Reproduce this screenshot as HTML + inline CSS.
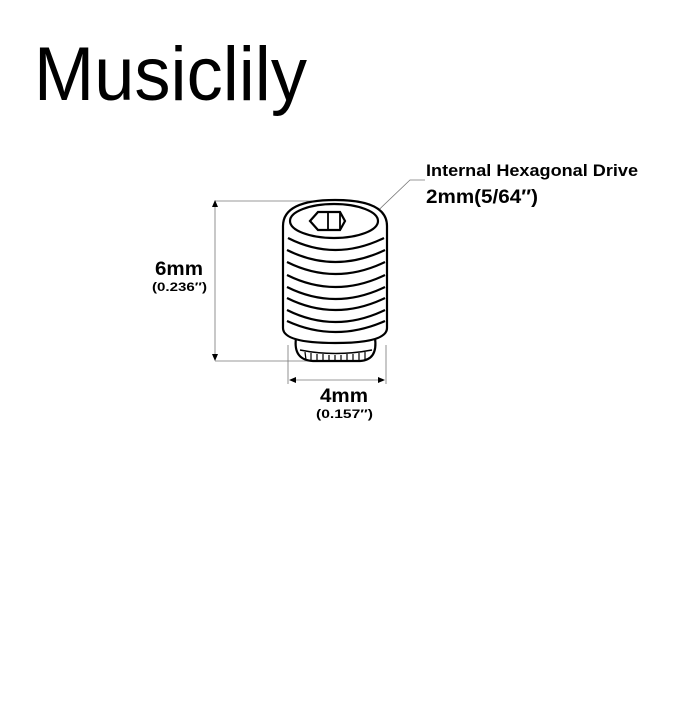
<!DOCTYPE html>
<html><head><style>
body{margin:0;background:#fff;width:700px;height:700px;overflow:hidden}
</style></head><body>
<svg width="700" height="700" xmlns="http://www.w3.org/2000/svg" font-family="Liberation Sans, sans-serif">
<text x="34" y="100" font-size="76" fill="#000" textLength="273" lengthAdjust="spacingAndGlyphs">Musiclily</text>
<g fill="#000" font-weight="bold">
<text x="426" y="176" font-size="16.5" textLength="212" lengthAdjust="spacingAndGlyphs">Internal Hexagonal Drive</text>
<text x="426" y="203" font-size="19" textLength="112" lengthAdjust="spacingAndGlyphs">2mm(5/64″)</text>
<text x="155" y="275" font-size="19" textLength="48" lengthAdjust="spacingAndGlyphs">6mm</text>
<text x="152" y="291" font-size="12" textLength="55" lengthAdjust="spacingAndGlyphs">(0.236″)</text>
<text x="320" y="402" font-size="19" textLength="48" lengthAdjust="spacingAndGlyphs">4mm</text>
<text x="316" y="418" font-size="12" textLength="57" lengthAdjust="spacingAndGlyphs">(0.157″)</text>
</g>
<g stroke="#777" stroke-width="0.8" fill="none">
<line x1="215" y1="201" x2="330" y2="201"/>
<line x1="215" y1="361" x2="340" y2="361"/>
<line x1="215" y1="203" x2="215" y2="359"/>
<line x1="288" y1="345" x2="288" y2="384"/>
<line x1="386" y1="345" x2="386" y2="384"/>
<line x1="291" y1="380" x2="384" y2="380"/>
<polyline points="364,224 410,180 425,180"/>
</g>
<g fill="#000">
<polygon points="215,200 212,207 218,207"/>
<polygon points="215,361 212,354 218,354"/>
<polygon points="289,380 296,377 296,383"/>
<polygon points="385,380 378,377 378,383"/>
<polygon points="362,226 365,219 369,223"/>
</g>
<g stroke="#000" stroke-width="2.2" fill="none">
<path d="M296,338 Q293,360 313,361 L360,361 Q378,360 375,338"/>
<path d="M300,350 Q335,357 372,350" stroke-width="1.5"/>
<g stroke-width="1.2">
<line x1="305" y1="352" x2="306" y2="360"/><line x1="311" y1="353" x2="311" y2="361"/><line x1="317" y1="354" x2="317" y2="361"/><line x1="323" y1="354" x2="323" y2="361"/><line x1="329" y1="355" x2="329" y2="361"/><line x1="335" y1="355" x2="335" y2="361"/><line x1="341" y1="355" x2="341" y2="361"/><line x1="347" y1="354" x2="347" y2="361"/><line x1="353" y1="354" x2="353" y2="361"/><line x1="359" y1="353" x2="359" y2="361"/><line x1="365" y1="352" x2="365" y2="360"/>
</g>
<path d="M283,226 Q283,200 335,200 Q387,200 387,226 L387,328 Q387,343 335,343 Q283,343 283,328 Z" fill="#fff"/>
<ellipse cx="334" cy="221" rx="44" ry="17"/>
<polygon points="310,221 318,212 340,212 345,221 340,230 318,230"/>
<line x1="328" y1="212" x2="328" y2="230" stroke-width="1.8"/>
<line x1="340" y1="212" x2="340" y2="230" stroke-width="1.8"/>
<path d="M288,238 Q335,262 384,238"/>
<path d="M287,250 Q335,274 385,250"/>
<path d="M287,262 Q335,286 385,262"/>
<path d="M287,275 Q335,299 385,275"/>
<path d="M287,287 Q335,311 385,287"/>
<path d="M287,298 Q335,322 385,298"/>
<path d="M287,310 Q335,334 385,310"/>
<path d="M287,321 Q335,343 385,321"/>
</g>
</svg>
</body></html>
